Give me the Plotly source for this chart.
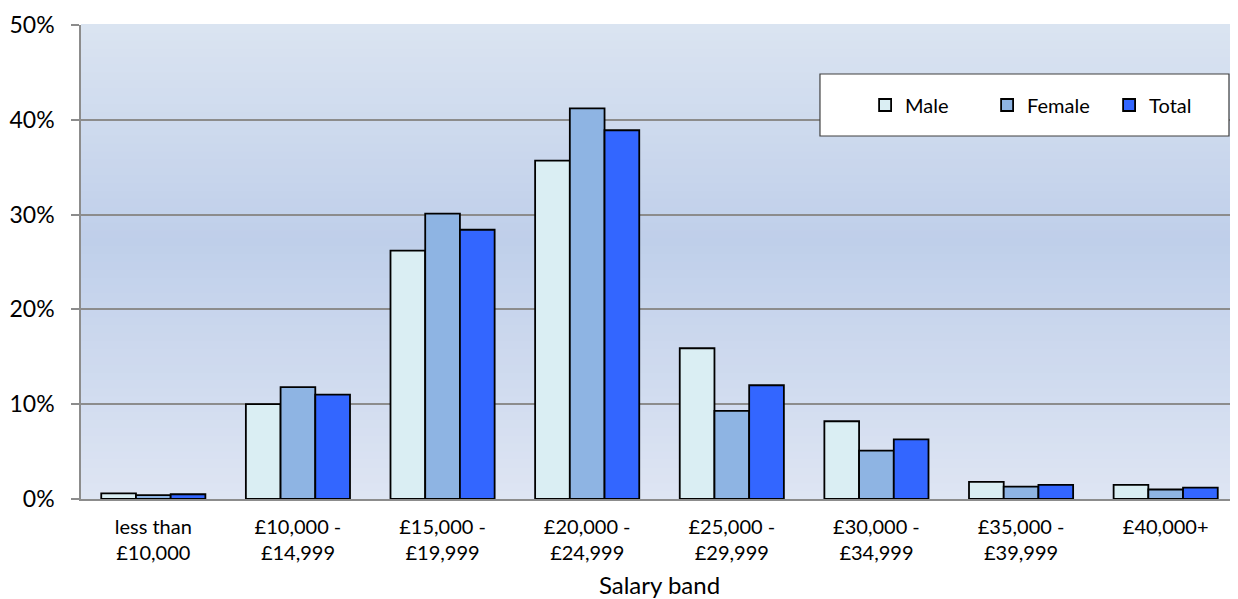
import plotly.graph_objects as go

categories = ["less than<br>£10,000", "£10,000 -<br>£14,999", "£15,000 -<br>£19,999",
              "£20,000 -<br>£24,999", "£25,000 -<br>£29,999", "£30,000 -<br>£34,999",
              "£35,000 -<br>£39,999", "£40,000+"]
male = [0.006, 0.100, 0.262, 0.357, 0.159, 0.082, 0.018, 0.015]
female = [0.004, 0.118, 0.301, 0.412, 0.093, 0.051, 0.013, 0.010]
total = [0.005, 0.110, 0.284, 0.389, 0.120, 0.063, 0.015, 0.012]
y_ticks = [0, 0.1, 0.2, 0.3, 0.4, 0.5]
y_labels = ["0%", "10%", "20%", "30%", "40%", "50%"]

FONT = "Lato, 'Open Sans', sans-serif"

fig = go.Figure()
for name, vals, col in [("Male", male, "#daeef3"), ("Female", female, "#8eb4e3"), ("Total", total, "#3366ff")]:
    fig.add_trace(go.Bar(x=categories, y=vals, name=name, marker_color=col,
                         marker_line_color="#000000", marker_line_width=1.8))

# vertical gradient background as stripes
def lerp(c1, c2, t):
    return tuple(round(a + (b - a) * t) for a, b in zip(c1, c2))
top_c = (0xdb, 0xe4, 0xf1)
mid_c = (0xbf, 0xcf, 0xea)
bot_c = (0xde, 0xe5, 0xf3)
n = 60
shapes = []
for i in range(n):
    f0 = i / n
    f1 = (i + 1) / n
    fm = (f0 + f1) / 2  # 0 at bottom, 1 at top
    mid_pos = 0.55
    if fm < mid_pos:
        c = lerp(bot_c, mid_c, fm / mid_pos)
    else:
        c = lerp(mid_c, top_c, (fm - mid_pos) / (1 - mid_pos))
    shapes.append(dict(type="rect", xref="paper", yref="paper", x0=0, x1=1, y0=f0, y1=f1 + 0.002,
                       fillcolor="rgb(%d,%d,%d)" % c, line_width=0, layer="below"))
# legend box
shapes.append(dict(type="rect", xref="paper", yref="paper", x0=0.6387, x1=0.9922, y0=0.7658, y1=0.8966,
                   fillcolor="white", line=dict(color="#404040", width=1.2), layer="above"))

# page body has an 8px default margin: compensate
fig.update_layout(
    width=1230, height=591,
    margin=dict(l=73, r=0, t=17, b=100, autoexpand=False),
    paper_bgcolor="white", plot_bgcolor="#d0dcef",
    barmode="group", bargap=0.28, bargroupgap=0,
    shapes=shapes,
    font=dict(family=FONT, color="#000000"),
    showlegend=True,
    legend=dict(orientation="h", x=0.6777, y=0.8312, xanchor="left", yanchor="middle",
                bgcolor="rgba(0,0,0,0)", borderwidth=0, font=dict(size=20, family=FONT),
                entrywidth=77, entrywidthmode="pixels", itemwidth=30),
    xaxis=dict(showgrid=False, showline=True, linecolor="#8c8c8c", linewidth=1.5,
               tickfont=dict(size=20, family=FONT), ticks="", automargin=False, ticklabelstandoff=9,
               title=dict(text="Salary band", font=dict(size=24, family=FONT), standoff=18)),
    yaxis=dict(range=[0, 0.5], tickvals=y_ticks, ticktext=y_labels, showgrid=True, automargin=False,
               gridcolor="#8c8c8c", gridwidth=1.5, showline=True, linecolor="#8c8c8c", linewidth=1.5,
               ticks="outside", ticklen=8, tickcolor="#8c8c8c", tickwidth=1.5,
               tickfont=dict(size=23, family=FONT), zeroline=False, ticklabelstandoff=12),
)
fig.write_html("out.html")
